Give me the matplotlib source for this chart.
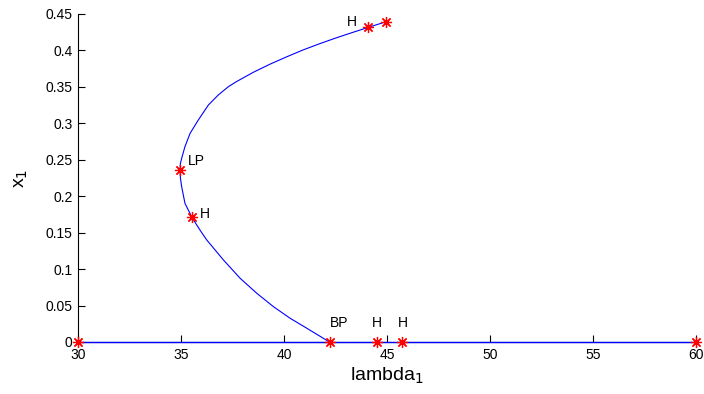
import numpy as np
import matplotlib.pyplot as plt

plt.rcParams['font.family'] = ['Liberation Sans', 'DejaVu Sans']

# trivial branch x1 = 0
triv_lam = [30, 60]
triv_x = [0, 0]

# nontrivial branch from BP through the fold up to the end point
branch_lam = [42.20, 41.10, 40.29, 39.48, 38.67, 37.86, 37.05, 36.24, 35.90, 35.52,
              35.18, 35.02, 34.96, 34.94, 34.96, 35.02, 35.18, 35.43, 35.83, 36.32,
              36.80, 37.29, 37.70, 38.50, 39.30, 40.10, 40.90, 41.70, 42.50, 43.30,
              44.09, 44.95]
branch_x = [0.0, 0.0188, 0.0325, 0.0484, 0.0668, 0.0874, 0.1125, 0.1399, 0.1540, 0.1710,
            0.1903, 0.2131, 0.2250, 0.2360, 0.2450, 0.2520, 0.2680, 0.2863, 0.3046, 0.3252,
            0.3389, 0.3503, 0.3575, 0.3700, 0.3810, 0.3910, 0.4005, 0.4090, 0.4170, 0.4245,
            0.4317, 0.4394]

# special points (label, lambda, x1, label offset in pixels)
pt_labels = ['', 'BP', 'H', 'H', '', 'LP', 'H', 'H', '']
pt_lam = [30, 42.2, 44.51, 45.74, 60, 34.94, 35.52, 44.09, 44.95]
pt_x = [0, 0, 0, 0, 0, 0.236, 0.171, 0.4317, 0.4394]
pt_off = [(0, 0), (0, 19), (-5, 19), (-5, 19), (0, 0), (8, 9), (8, 3), (-12, 5), (0, 0)]

fig = plt.figure(figsize=(7.04, 3.94), dpi=100)
ax = fig.add_axes([0.1112, 0.132, 0.8775, 0.8325])

ax.plot(triv_lam, triv_x, color='b', lw=1.0, zorder=3, clip_on=False)
ax.plot(branch_lam, branch_x, color='b', lw=0.8, zorder=3, clip_on=False)
# matlab-style '*' marker: eight spokes
ax.plot(pt_lam, pt_x, color='r', marker=(8, 2, 0), ms=8, mew=0.9, ls='none',
        zorder=4, clip_on=False)

for lab, lx, ly, off in zip(pt_labels, pt_lam, pt_x, pt_off):
    if not lab:
        continue
    ha = 'right' if off[0] < -8 else 'left'
    ax.annotate(lab, (lx, ly), xytext=off, textcoords='offset pixels',
                ha=ha, va='center', fontsize=10)

ax.set_xlim(30, 60)
ax.set_ylim(0, 0.45)
ax.set_xticks(np.arange(30, 61, 5))
ax.set_yticks(np.arange(0, 0.451, 0.05))
ax.set_yticklabels(['0', '0.05', '0.1', '0.15', '0.2', '0.25', '0.3', '0.35', '0.4', '0.45'])
ax.tick_params(direction='in', length=5, width=0.8, labelsize=10, pad=4)

for s in ['top', 'right']:
    ax.spines[s].set_visible(False)
for s in ['left', 'bottom']:
    ax.spines[s].set_linewidth(0.8)

ax.set_xlabel('lambda$_1$', fontsize=14, labelpad=3)
ax.set_ylabel('x$_1$', fontsize=14, labelpad=11)

fig.savefig('out.png', dpi=100)
